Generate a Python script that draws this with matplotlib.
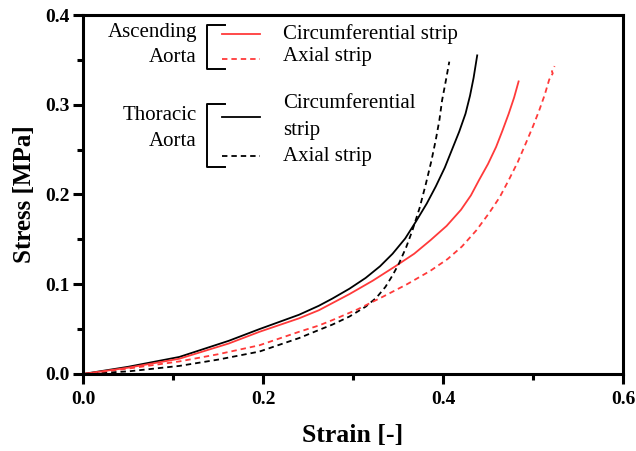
import numpy as np
import matplotlib
matplotlib.use('Agg')
import matplotlib.pyplot as plt
from matplotlib.lines import Line2D
from matplotlib.ticker import MultipleLocator

plt.rcParams['font.family'] = ['Liberation Serif', 'DejaVu Serif']

# thoracic aorta, circumferential strip
tc_x = [0, 0.05, 0.107, 0.162, 0.196, 0.24, 0.262, 0.277, 0.296, 0.314, 0.33, 0.344,
        0.358, 0.370, 0.382, 0.392, 0.402, 0.410, 0.418, 0.425, 0.430, 0.434, 0.438]
tc_y = [0, 0.008, 0.019, 0.037, 0.050, 0.066, 0.076, 0.084, 0.095, 0.107, 0.120, 0.134,
        0.151, 0.170, 0.190, 0.209, 0.230, 0.250, 0.270, 0.290, 0.310, 0.330, 0.355]
# ascending aorta, circumferential strip
ac_x = [0, 0.05, 0.107, 0.162, 0.196, 0.24, 0.262, 0.296, 0.322, 0.347, 0.368, 0.386,
        0.404, 0.420, 0.431, 0.440, 0.450, 0.459, 0.466, 0.473, 0.479, 0.484]
ac_y = [0, 0.007, 0.017, 0.034, 0.047, 0.062, 0.071, 0.089, 0.104, 0.120, 0.134, 0.149,
        0.165, 0.183, 0.199, 0.216, 0.234, 0.253, 0.271, 0.290, 0.308, 0.326]
# thoracic aorta, axial strip
ta_x = [0, 0.051, 0.107, 0.150, 0.196, 0.24, 0.262, 0.277, 0.296, 0.314, 0.326, 0.336,
        0.344, 0.351, 0.359, 0.366, 0.374, 0.381, 0.387, 0.392, 0.396, 0.399, 0.403, 0.407]
ta_y = [0, 0.003, 0.009, 0.016, 0.025, 0.040, 0.049, 0.055, 0.064, 0.075, 0.085, 0.097,
        0.110, 0.123, 0.141, 0.160, 0.185, 0.212, 0.237, 0.261, 0.283, 0.305, 0.326, 0.348]
# ascending aorta, axial strip
aa_x = [0, 0.05, 0.107, 0.15, 0.196, 0.24, 0.262, 0.277, 0.305, 0.333, 0.36, 0.386,
        0.405, 0.421, 0.437, 0.451, 0.463, 0.473, 0.483, 0.492, 0.500, 0.507, 0.513,
        0.518, 0.522, 0.521, 0.524]
aa_y = [0, 0.006, 0.014, 0.022, 0.032, 0.047, 0.054, 0.060, 0.072, 0.086, 0.100, 0.115,
        0.128, 0.142, 0.160, 0.179, 0.197, 0.216, 0.236, 0.257, 0.276, 0.294, 0.311,
        0.328, 0.335, 0.337, 0.343]

W, H = 636, 451
fig = plt.figure(figsize=(W / 100, H / 100), dpi=100)
ax = fig.add_axes([83 / W, 1 - 374 / H, 540 / W, 359 / H])

red = '#ff3a3a'
dash = (0, (3, 2.2))
ax.plot(tc_x, tc_y, color='black', lw=1.3)
ax.plot(ac_x, ac_y, color=red, lw=1.3)
ax.plot(ta_x, ta_y, color='black', lw=1.3, linestyle=dash)
ax.plot(aa_x, aa_y, color=red, lw=1.3, linestyle=dash)

ax.set_xlim(0, 0.6)
ax.set_ylim(0, 0.4)
ax.xaxis.set_major_locator(MultipleLocator(0.2))
ax.xaxis.set_minor_locator(MultipleLocator(0.1))
ax.yaxis.set_major_locator(MultipleLocator(0.1))
ax.yaxis.set_minor_locator(MultipleLocator(0.05))
ax.xaxis.set_major_formatter(lambda v, p: f'{v:.1f}')
ax.yaxis.set_major_formatter(lambda v, p: f'{v:.1f}')
for s in ax.spines.values():
    s.set_linewidth(2.2)
ax.tick_params(which='major', direction='out', length=7.5, width=2.2, labelsize=14, pad=5)
ax.tick_params(which='minor', direction='out', length=4.5, width=2.2)
ax.tick_params(axis='y', which='major', pad=2)
for lab in ax.get_xticklabels() + ax.get_yticklabels():
    lab.set_fontweight('bold')

ax.set_xlabel('Strain [-]', fontsize=18.5, fontweight='bold', labelpad=11)
ax.set_ylabel('Stress [MPa]', fontsize=18, fontweight='bold', labelpad=7)

# custom bracket legend (pixel positions)
def fx(px):
    return px / W

def fy(py):
    return 1 - py / H

tr = fig.transFigure
fs = 15

def bracket(y0, y1):
    xs = [fx(225), fx(207), fx(207), fx(225)]
    ys = [fy(y0), fy(y0), fy(y1), fy(y1)]
    fig.add_artist(Line2D(xs, ys, color='black', lw=1.4, transform=tr))

def sample(py, color, ls):
    fig.add_artist(Line2D([fx(222), fx(260)], [fy(py), fy(py)], color=color,
                          lw=1.3, linestyle=ls, transform=tr))

fig.text(fx(197), fy(33), 'Ascending', ha='right', va='center', fontsize=fs)
fig.text(fx(197), fy(58), 'Aorta', ha='right', va='center', fontsize=fs)
bracket(25, 69)
sample(34, red, '-')
sample(59, red, dash)
fig.text(fx(283), fy(34), 'Circumferential strip', ha='left', va='center', fontsize=fs)
fig.text(fx(283), fy(57), 'Axial strip', ha='left', va='center', fontsize=fs)

fig.text(fx(197), fy(116), 'Thoracic', ha='right', va='center', fontsize=fs)
fig.text(fx(197), fy(141), 'Aorta', ha='right', va='center', fontsize=fs)
bracket(104, 167)
sample(117, 'black', '-')
sample(156, 'black', dash)
fig.text(fx(283), fy(104), 'Circumferential', ha='left', va='center', fontsize=fs)
fig.text(fx(283), fy(130), 'strip', ha='left', va='center', fontsize=fs)
fig.text(fx(283), fy(156), 'Axial strip', ha='left', va='center', fontsize=fs)

fig.savefig('out.png', dpi=100)
